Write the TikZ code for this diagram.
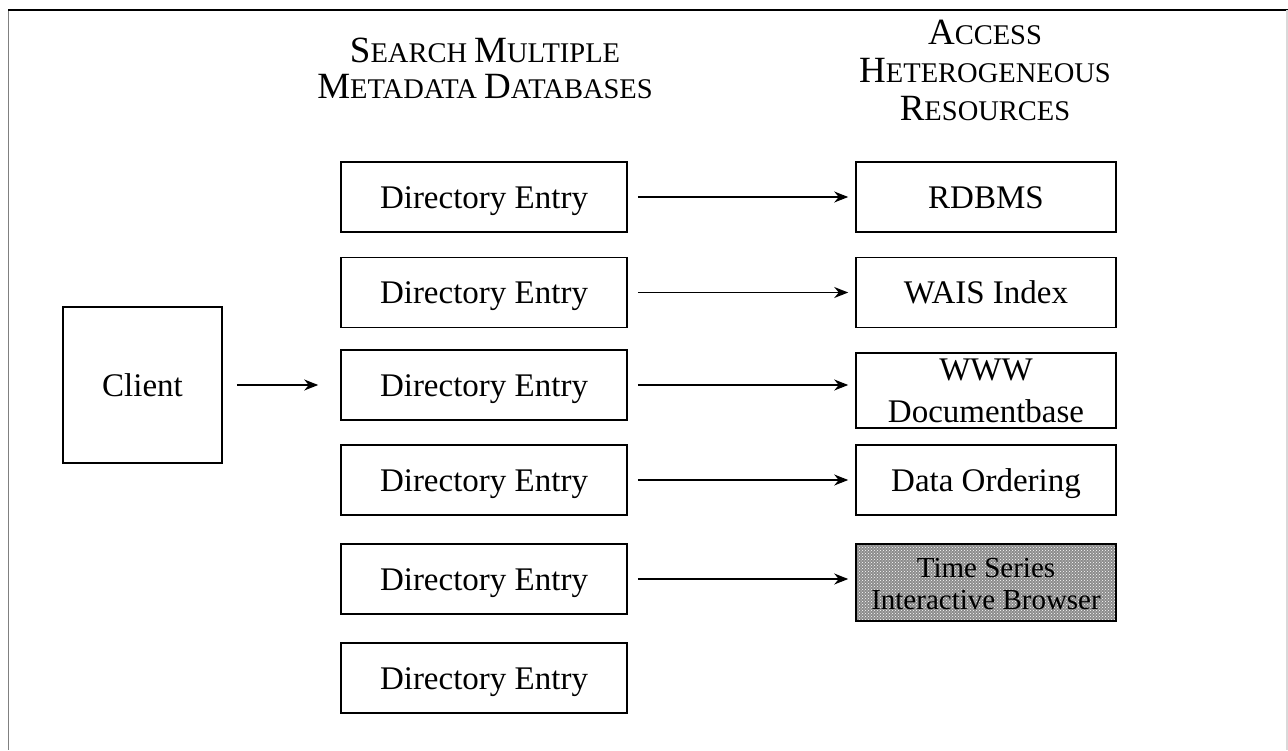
\documentclass[tikz,border=0pt]{standalone}
\usepackage{fontspec}
\setmainfont{Liberation Serif}
\usetikzlibrary{arrows.meta,patterns}
\newcommand{\bigL}[1]{{\fontsize{37}{40}\selectfont #1}}
\begin{document}
\begin{tikzpicture}[x=1pt,y=-1pt,
  box/.style={draw,line width=1.6pt,inner sep=0pt,font=\fontsize{33}{36}\selectfont,align=center},
  one/.style={text height=26.5pt,text depth=4.5pt},
  dbox/.style={box,one,minimum width=286pt,minimum height=70pt},
  rbox/.style={box,minimum width=260pt,minimum height=70pt},
  conn/.style={line width=1.3pt,-{Stealth[length=14pt,width=11pt]}},
  head/.style={font=\fontsize{28.5}{38}\selectfont,align=center,inner sep=0pt}]
\useasboundingbox (0,0) rectangle (1288,750);
\fill[white] (0,0) rectangle (1288,750);
% frame
\draw[black!50,line width=1.4pt] (8.5,10) -- (8.5,750);
\draw[black,line width=1.4pt] (8,10) -- (1288,10);
\draw[black!15,line width=1.2pt] (1287,10) -- (1287,750);
% headers
\node[head] (h1) at (485,68) {\bigL{S}EARCH \bigL{M}ULTIPLE\\[-2pt]\bigL{M}ETADATA \bigL{D}ATABASES};
\node[head] (h2) at (985,70) {\bigL{A}CCESS\\\bigL{H}ETEROGENEOUS\\\bigL{R}ESOURCES};
% client
\node[box,one,minimum width=159pt,minimum height=156pt] (client) at (142.5,385) {Client};
% directory entries
\node[dbox] (d1) at (484,197) {Directory Entry};
\node[dbox] (d2) at (484,292.5) {Directory Entry};
\node[dbox] (d3) at (484,385) {Directory Entry};
\node[dbox] (d4) at (484,480) {Directory Entry};
\node[dbox] (d5) at (484,579) {Directory Entry};
\node[dbox] (d6) at (484,678) {Directory Entry};
% resources
\node[rbox,one] (r1) at (986,197) {RDBMS};
\node[rbox,one] (r2) at (986,292.5) {WAIS Index};
\node[rbox,minimum height=75pt] (r3) at (986,390.5) {\rule{0pt}{20pt}WWW\\[6pt]Documentbase};
\node[rbox,one] (r4) at (986,480) {Data Ordering};
\path[fill=black!45] (856,544) rectangle (1116,621);
\node[rbox,minimum height=77pt,pattern=crosshatch dots,pattern color=white,font=\fontsize{29}{32}\selectfont] (r5) at (986,582.5) {\rule{0pt}{22pt}Time Series\\[0pt]Interactive Browser};
% connectors
\draw[conn] ([xshift=14pt]client.east) -- ([xshift=-22pt]d3.west);
\foreach \i in {1,...,5}{
  \draw[conn] ([xshift=10pt]d\i.east) -- ([xshift=-7pt]r\i.west |- d\i.east);
}
\end{tikzpicture}
\end{document}
